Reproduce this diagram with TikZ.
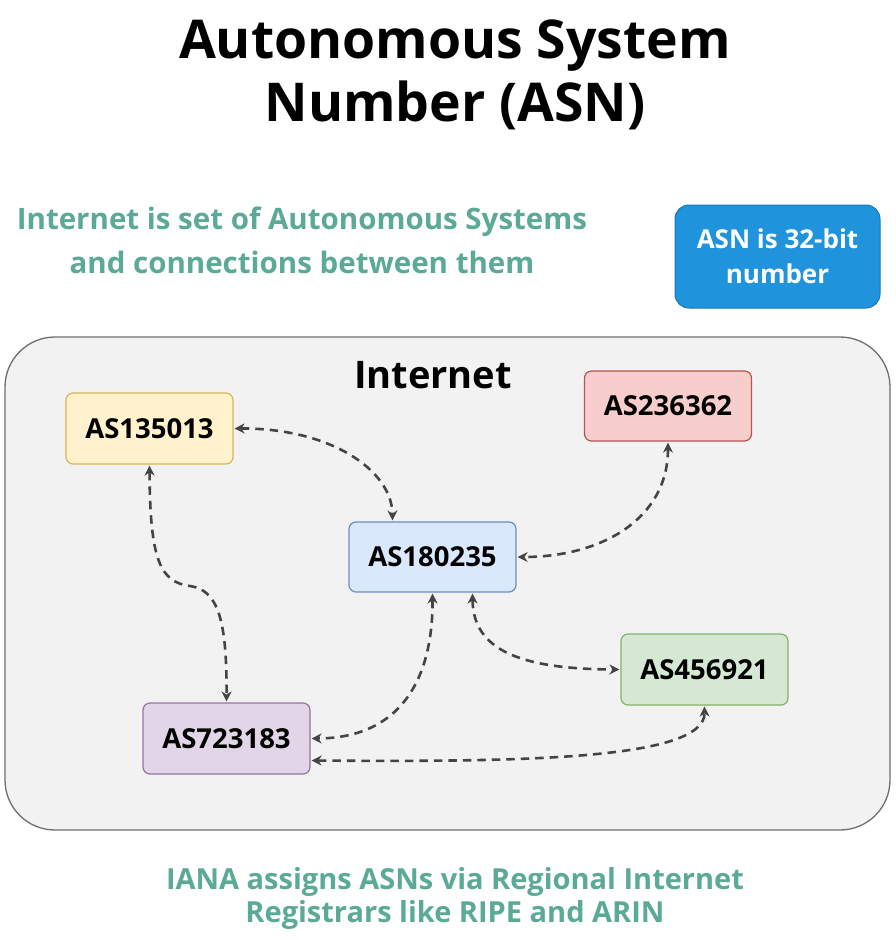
\documentclass[tikz,border=0pt]{standalone}
\usepackage{fontspec}
\setmainfont{Open Sans}
\usetikzlibrary{arrows.meta}
\definecolor{teal1}{HTML}{5BAA98}
\definecolor{arr}{HTML}{444444}
\definecolor{asnd}{HTML}{1A78BB}
\definecolor{asnf}{HTML}{1F93DB}
\definecolor{inetd}{HTML}{6E6E6E}
\definecolor{inetf}{HTML}{F2F2F2}
\definecolor{yd}{HTML}{D6B656}\definecolor{yf}{HTML}{FFF2CC}
\definecolor{rd}{HTML}{B85450}\definecolor{rf}{HTML}{F8CECC}
\definecolor{bd}{HTML}{6C8EBF}\definecolor{bf}{HTML}{DAE8FC}
\definecolor{gd}{HTML}{82B366}\definecolor{gf}{HTML}{D5E8D4}
\definecolor{pd}{HTML}{9673A6}\definecolor{pf}{HTML}{E1D5E7}
\begin{document}
\begin{tikzpicture}[x=1pt,y=-1pt,
  asbox/.style={draw, rounded corners=7pt, line width=1.2pt, minimum width=167pt, minimum height=71pt, inner sep=0pt, font=\fontsize{27.5}{32}\selectfont\bfseries, text=black},
  link/.style={draw=arr, line width=2.6pt, dash pattern=on 8.5pt off 6pt, {Stealth[length=10pt,width=10pt]}-{Stealth[length=10pt,width=10pt]}, shorten <=1pt, shorten >=1pt},
  note/.style={align=center, text=teal1, font=\fontsize{29.5}{44}\selectfont\bfseries}]
\useasboundingbox (0,0) rectangle (895,940);
\fill[white] (0,0) rectangle (895,940);
% title
\node[align=center, anchor=base, inner sep=0pt, font=\fontsize{53.5}{63}\selectfont\bfseries] (title) at (455,121) {Autonomous System\\Number (ASN)};
\node[note] (n1) at (302,240) {Internet is set of Autonomous Systems\\and connections between them};
\node[draw=asnd, fill=asnf, rounded corners=14pt, line width=1pt, minimum width=205pt, minimum height=103pt, align=center, text=white, font=\fontsize{26}{35}\selectfont\bfseries] (asn) at (777.5,256.5) {ASN is 32-bit\\number};
% container
\node[draw=inetd, fill=inetf, rounded corners=50pt, line width=1.3pt, minimum width=885pt, minimum height=493pt] (inet) at (447.5,583.5) {};
\node[font=\fontsize{38}{44}\selectfont\bfseries] (lbl) at (433,375) {Internet};
% AS nodes
\node[asbox, draw=yd, fill=yf] (a135) at (149.5,428.5) {AS135013};
\node[asbox, draw=rd, fill=rf, minimum height=70pt] (a236) at (668,406) {AS236362};
\node[asbox, draw=bd, fill=bf, minimum height=70pt] (a180) at (432.5,557) {AS180235};
\node[asbox, draw=gd, fill=gf] (a456) at (704.5,669.5) {AS456921};
\node[asbox, draw=pd, fill=pf] (a723) at (226.5,738.5) {AS723183};
% links
\draw[link] (a135.east) .. controls (330,428) and (392,470) .. ([xshift=-40pt]a180.north);
\path[link] (a135.south) .. controls (150,560) and (160,582) .. (190,586) .. controls (218,590) and (227,620) .. (a723.north);
\draw[link] (a236.south) .. controls (668,520) and (600,557) .. (a180.east);
\draw[link] (a180.south) .. controls (433,680) and (400,738) .. (a723.east);
\draw[link] ([xshift=40pt]a180.south) .. controls (473,650) and (520,669) .. (a456.west);
\draw[link] ([yshift=-22pt]a723.east) .. controls (520,762) and (705,760) .. (a456.south);
% bottom
\node[note, font=\fontsize{29}{33}\selectfont\bfseries] (n2) at (455,898) {IANA assigns ASNs via Regional Internet\\Registrars like RIPE and ARIN};
\end{tikzpicture}
\end{document}
